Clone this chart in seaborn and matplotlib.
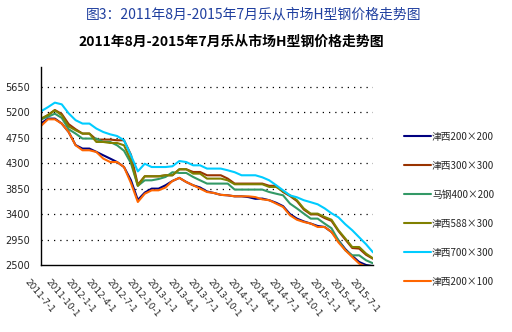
import numpy as np
import pandas as pd
import matplotlib
matplotlib.use("Agg")
import matplotlib.pyplot as plt
from matplotlib.transforms import ScaledTranslation
import seaborn as sns

# month index 0 = 2011-08 ... 48 = 2015-08
months = list(range(49))

jx_200x200 = [5000, 5088, 5088, 5000, 4850, 4620, 4558, 4558, 4500, 4440,
              4381, 4320, 4232, 4000, 3650, 3780, 3850, 3850, 3909, 3985,
              4040, 3967, 3909, 3870, 3800, 3773, 3740, 3732, 3714, 3714,
              3700, 3670, 3674, 3645, 3600, 3540, 3400, 3320, 3270, 3232,
              3190, 3172, 3084, 2936, 2780, 2660, 2553, 2500, 2480]
jx_300x300 = [5075, 5150, 5240, 5170, 4990, 4900, 4823, 4823, 4717, 4717,
              4717, 4705, 4705, 4450, 3920, 4068, 4068, 4068, 4086, 4086,
              4192, 4192, 4144, 4144, 4086, 4086, 4086, 4027, 3939, 3939,
              3939, 3939, 3939, 3900, 3900, 3790, 3720, 3630, 3480, 3395,
              3395, 3330, 3280, 3100, 2950, 2800, 2790, 2680, 2610]
mg_400x200 = [5075, 5120, 5175, 5100, 4900, 4823, 4735, 4735, 4735, 4675,
              4675, 4616, 4520, 4300, 3900, 3997, 3997, 4020, 4056, 4140,
              4127, 4127, 4056, 3997, 3939, 3939, 3939, 3939, 3833, 3833,
              3833, 3833, 3833, 3790, 3760, 3732, 3585, 3500, 3408, 3320,
              3320, 3232, 3150, 2936, 2760, 2671, 2671, 2583, 2530]
jx_588x300 = [5088, 5150, 5235, 5147, 4950, 4882, 4823, 4823, 4675, 4675,
              4657, 4657, 4616, 4350, 3900, 4068, 4068, 4068, 4086, 4086,
              4192, 4192, 4115, 4115, 4027, 4027, 4027, 3997, 3927, 3927,
              3927, 3927, 3927, 3880, 3880, 3800, 3732, 3645, 3497, 3408,
              3408, 3349, 3300, 3114, 2967, 2818, 2818, 2701, 2618]
jx_700x300 = [5217, 5290, 5370, 5340, 5180, 5060, 5000, 5000, 4912, 4851,
              4810, 4780, 4705, 4440, 4155, 4290, 4232, 4232, 4232, 4245,
              4338, 4320, 4262, 4262, 4204, 4204, 4204, 4174, 4140, 4086,
              4086, 4086, 4050, 3997, 3910, 3820, 3730, 3697, 3645, 3610,
              3573, 3502, 3414, 3343, 3220, 3114, 2990, 2866, 2724]
jx_200x100 = [4958, 5075, 5075, 5000, 4850, 4616, 4528, 4528, 4498, 4381,
              4320, 4320, 4232, 3950, 3614, 3760, 3820, 3820, 3870, 3985,
              4040, 3967, 3909, 3850, 3790, 3773, 3740, 3732, 3714, 3714,
              3714, 3700, 3660, 3645, 3585, 3526, 3379, 3300, 3260, 3232,
              3172, 3172, 3084, 2900, 2760, 2641, 2525, 2470, 2450]

series_names = ["津西200×200", "津西300×300", "马钢400×200",
                "津西588×300", "津西700×300", "津西200×100"]
series_values = [jx_200x200, jx_300x300, mg_400x200,
                 jx_588x300, jx_700x300, jx_200x100]
colors = ["#000080", "#993300", "#339966", "#808000", "#00CCFF", "#FF6600"]

y_ticks = [2500, 2950, 3400, 3850, 4300, 4750, 5200, 5650]
x_tick_labels = ["2011-7-1", "2011-10-1", "2012-1-1", "2012-4-1", "2012-7-1",
                 "2012-10-1", "2013-1-1", "2013-4-1", "2013-7-1", "2013-10-1",
                 "2014-1-1", "2014-4-1", "2014-7-1", "2014-10-1", "2015-1-1",
                 "2015-4-1", "2015-7-1"]

rows = []
for name, vals in zip(series_names, series_values):
    for m, v in zip(months, vals):
        rows.append({"month": m, "price": v, "series": name})
df = pd.DataFrame(rows)

sns.set_theme(style="white")
plt.rcParams["font.family"] = ["Noto Sans CJK SC", "DejaVu Sans"]

fig = plt.figure(figsize=(5.12, 3.32), dpi=100)
ax = fig.add_axes([41 / 512, 1 - 265 / 332, 332 / 512, 198 / 332])

sns.lineplot(data=df, x="month", y="price", hue="series",
             hue_order=series_names, palette=colors, linewidth=1.5,
             ax=ax, legend=True)

ax.set_xlim(0, 48)
ax.set_ylim(2500, 6000)
ax.set_yticks(y_ticks)
ax.set_yticklabels([str(t) for t in y_ticks], fontsize=7, family="DejaVu Sans",
                   color="#222222")
for t in y_ticks[1:]:
    ax.axhline(t, color="black", linewidth=0.9, linestyle=(0, (1, 4)), zorder=0)

# category-style date labels, drawn below the axis
ax.set_xticks([])
tick_pos = np.linspace(0, 47, len(x_tick_labels))
lab_tr = ax.get_xaxis_transform() + ScaledTranslation(-11 / 100, -13 / 100, fig.dpi_scale_trans)
for p, txt in zip(tick_pos, x_tick_labels):
    ax.text(p, 0, txt, transform=lab_tr, rotation=-50, ha="left", va="top",
            rotation_mode="anchor", fontsize=6.5, family="DejaVu Sans",
            clip_on=False)
ax.tick_params(axis="y", length=0, pad=8)
ax.set_xlabel("")
ax.set_ylabel("")

for s in ["top", "right"]:
    ax.spines[s].set_visible(False)
for s in ["left", "bottom"]:
    ax.spines[s].set_color("black")
    ax.spines[s].set_linewidth(1.0)

handles, labels = ax.get_legend_handles_labels()
ax.legend(handles, labels, loc="upper left", bbox_to_anchor=(400 / 512, 1 - 128 / 332),
          bbox_transform=fig.transFigure, frameon=False, fontsize=7,
          handlelength=2.8, handletextpad=0.1, labelspacing=1.95, borderaxespad=0)

fig.text(254 / 512, 1 - 15 / 332, "图3：2011年8月-2015年7月乐从市场H型钢价格走势图",
         ha="center", va="center", fontsize=10, color="#1F3F9F")
fig.text(231 / 512, 1 - 42 / 332, "2011年8月-2015年7月乐从市场H型钢价格走势图",
         ha="center", va="center", fontsize=10, fontweight="bold", color="black")

fig.savefig("out.png", dpi=100)
